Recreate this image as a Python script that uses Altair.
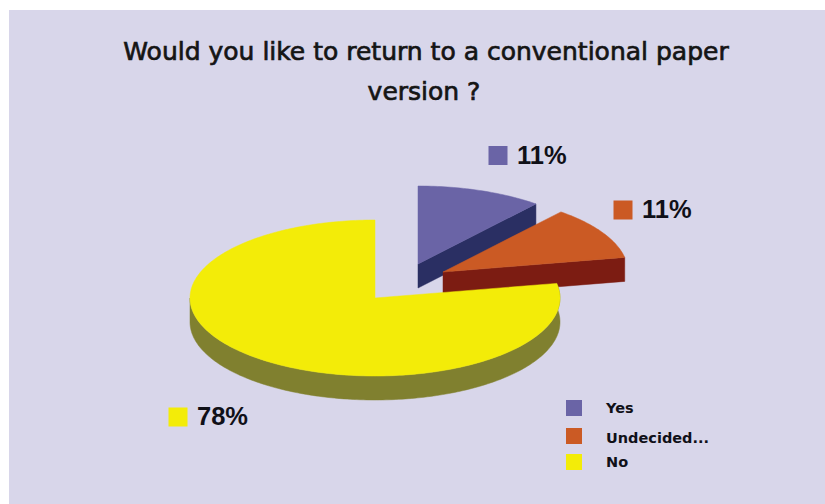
import math
import altair as alt
import pandas as pd

TITLE_LINES = ["Would you like to return to a conventional paper", "version ?"]
LABELS = ["Yes", "Undecided...", "No"]
PERCENTS = [11, 11, 78]
TOP_COLORS = ["#6a64a6", "#cb5a24", "#f3ec08"]
SIDE_COLORS = ["#2a2f63", "#7c1c12", "#80802f"]
PANEL_COLOR = "#d8d6ea"

# Layout of the pseudo-3D pie, in canvas units
WIDTH, HEIGHT = 825, 504
RX, RY, DEPTH = 185, 78, 24
CENTERS = [(418, 264), (443, 272), (375, 298)]
LABEL_SPOTS = [(498, 155.5), (623, 210), (178, 417)]
LEGEND_ROWS = [(574, 408, 409), (574, 436, 439), (574, 462, 463)]


def rim(center, angle):
    """Point on the elliptical rim; angles run clockwise from 12 o'clock."""
    t = math.radians(angle)
    return center[0] + RX * math.sin(t), center[1] - RY * math.cos(t)


def arc(center, start, end, dy=0):
    steps = max(2, int(abs(end - start)))
    pts = [rim(center, start + (end - start) * i / steps) for i in range(steps + 1)]
    return [(x, y + dy) for x, y in pts]


def polygon(points, fill):
    closed = list(points) + [points[0]]
    df = pd.DataFrame(closed, columns=["x", "y"])
    df["seq"] = range(len(df))
    return (
        alt.Chart(df)
        .mark_line(fill=fill, stroke=fill, strokeWidth=0.5, interpolate="linear")
        .encode(
            x=alt.X("x:Q", scale=X_SCALE, axis=None),
            y=alt.Y("y:Q", scale=Y_SCALE, axis=None),
            order="seq:Q",
        )
    )


def text_layer(rows, **mark):
    return (
        alt.Chart(pd.DataFrame(rows, columns=["x", "y", "t"]))
        .mark_text(**mark)
        .encode(
            x=alt.X("x:Q", scale=X_SCALE, axis=None),
            y=alt.Y("y:Q", scale=Y_SCALE, axis=None),
            text="t:N",
        )
    )


def swatch(x, y, side, fill):
    df = pd.DataFrame({"x": [x - side / 2], "x2": [x + side / 2], "y": [y - side / 2], "y2": [y + side / 2]})
    return (
        alt.Chart(df)
        .mark_rect(fill=fill)
        .encode(
            x=alt.X("x:Q", scale=X_SCALE, axis=None),
            x2="x2:Q",
            y=alt.Y("y:Q", scale=Y_SCALE, axis=None),
            y2="y2:Q",
        )
    )


X_SCALE = alt.Scale(domain=[0, WIDTH], nice=False, zero=False)
Y_SCALE = alt.Scale(domain=[HEIGHT, 0], nice=False, zero=False)

panel = (
    alt.Chart(pd.DataFrame({"x": [9], "x2": [WIDTH], "y": [10], "y2": [HEIGHT]}))
    .mark_rect(fill=PANEL_COLOR)
    .encode(
        x=alt.X("x:Q", scale=X_SCALE, axis=None),
        x2="x2:Q",
        y=alt.Y("y:Q", scale=Y_SCALE, axis=None),
        y2="y2:Q",
    )
)

# Slice angles follow directly from the percentages
angles = [0]
for p in PERCENTS:
    angles.append(angles[-1] + p * 3.6)

layers = [panel]
for i in range(3):
    c, a0, a1 = CENTERS[i], angles[i], angles[i + 1]
    if i < 2:
        # flat cut face running from the apex to the slice's clockwise edge
        ex, ey = rim(c, a1)
        side = [c, (ex, ey), (ex, ey + DEPTH), (c[0], c[1] + DEPTH)]
    else:
        # outer wall of the large slice, visible along the lower half
        top = arc(c, a0, 270)
        side = top + [(x, y + DEPTH) for x, y in reversed(top)]
    layers.append(polygon(side, SIDE_COLORS[i]))
    layers.append(polygon([c] + arc(c, a0, a1), TOP_COLORS[i]))

title_font = dict(font="DejaVu Sans", fontSize=25, color="#151515", stroke="#151515", strokeWidth=0.7,
                  align="center", baseline="alphabetic")
layers.append(text_layer([(426, 60, TITLE_LINES[0]), (424, 100, TITLE_LINES[1])], **title_font))

for i in range(3):
    sx, sy = LABEL_SPOTS[i]
    layers.append(swatch(sx, sy, 19, TOP_COLORS[i]))
    layers.append(text_layer([(sx + 19, sy, f"{PERCENTS[i]}%")], font="Liberation Sans", fontWeight="bold",
                             fontSize=25.5, color="#101018", align="left", baseline="middle"))
    lx, ly, ty = LEGEND_ROWS[i]
    layers.append(swatch(lx, ly, 16, TOP_COLORS[i]))
    layers.append(text_layer([(606, ty, LABELS[i])], font="DejaVu Sans", fontWeight="bold", fontSize=14.5,
                             color="#101018", align="left", baseline="middle"))

chart = alt.layer(*layers).properties(
    width=WIDTH, height=HEIGHT, padding=0, autosize=alt.AutoSizeParams(type="none"), background="white"
).configure_view(stroke=None)

chart.save("out.html", embed_options={"renderer": "svg", "actions": False})
